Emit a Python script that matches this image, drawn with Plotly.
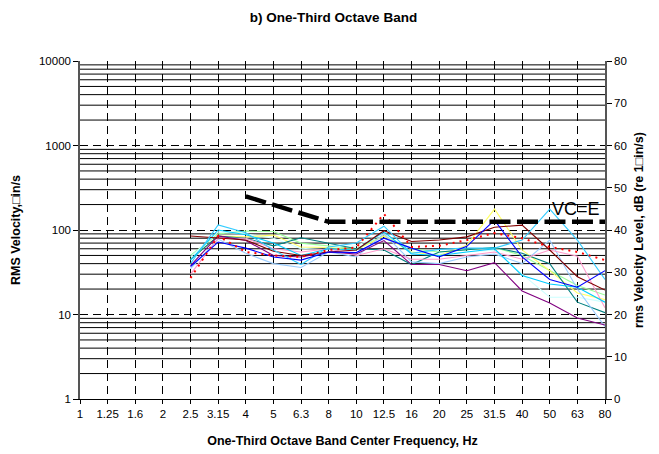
import math
import plotly.graph_objects as go

freq_labels = ["1", "1.25", "1.6", "2", "2.5", "3.15", "4", "5", "6.3", "8",
               "10", "12.5", "16", "20", "25", "31.5", "40", "50", "63", "80"]
data_start = 4  # series begin at 2.5 Hz

maroon = [85, 80, 76, 56, 50, 55, 58, 98, 73, 76, 83, 108, 114, 58, 28, 19.5]
blue = [37, 72, 61, 48, 44, 55, 54, 80, 61, 48, 64, 131, 48, 26, 21, 33]
skyblue = [40, 115, 93, 58, 39, 63, 70, 111, 53, 59, 61, 61, 76, 177, 76, 26]
yellow = [45, 85, 83, 87, 63, 62, 58, 85, 55, 50, 66, 177, 58, 33, 18, 15]
lightgreen = [50, 90, 97, 96, 70, 65, 60, 85, 60, 55, 58, 62, 50, 33, 22, 17]
teal = [45, 85, 80, 65, 81, 70, 60, 58, 39, 55, 58, 62, 53, 40, 14, 10.5]
pink = [30, 80, 80, 60, 55, 60, 50, 60, 45, 45, 50, 55, 45, 58, 49, 12]
lightblue = [35, 78, 53, 40, 36, 55, 48, 90, 42, 40, 48, 52, 40, 76, 20, 7.2]
purple = [38, 85, 75, 50, 48, 55, 52, 75, 39, 39, 33, 41, 19, 13.7, 9.1, 7.5]
lightcyan = [48, 95, 90, 80, 60, 62, 65, 90, 55, 52, 55, 58, 30, 16, 16, 14]
cyan2 = [44, 100, 88, 70, 50, 60, 58, 95, 52, 50, 55, 60, 29, 23, 21, 14]
red = [27, 85, 55, 50, 48, 58, 62, 155, 63, 65, 76, 92, 80, 63, 55, 44]

vce_start = 6  # VC-E curve begins at 4 Hz
vce = [250, 200, 160, 125, 125, 125, 125, 125, 125, 125, 125, 125, 125, 125]

series = [
    (lightgreen, "#99FF99"),
    (lightcyan, "#CCFFFF"),
    (yellow, "#FFFF66"),
    (teal, "#008080"),
    (lightblue, "#99CCFF"),
    (pink, "#FF99CC"),
    (purple, "#800080"),
    (cyan2, "#00CCFF"),
    (maroon, "#800000"),
    (skyblue, "#33CCFF"),
    (blue, "#0000FF"),
]

FONT = "Arial, Liberation Sans, sans-serif"
fig = go.Figure()

for vals, col in series:
    xs = list(range(data_start, data_start + len(vals)))
    fig.add_trace(go.Scatter(x=xs, y=vals, mode="lines",
                             line=dict(color=col, width=1.1),
                             showlegend=False, hoverinfo="skip"))

xs = list(range(data_start, data_start + len(red)))
fig.add_trace(go.Scatter(x=xs, y=red, mode="lines",
                         line=dict(color="#FF0000", width=2, dash="2px,5px"),
                         showlegend=False, hoverinfo="skip"))

xs = list(range(vce_start, vce_start + len(vce)))
fig.add_trace(go.Scatter(x=xs, y=vce, mode="lines",
                         line=dict(color="black", width=4.5, dash="21px,6.5px"),
                         showlegend=False, hoverinfo="skip"))

# invisible trace on the dB axis so it is drawn
xs = list(range(data_start, data_start + len(maroon)))
fig.add_trace(go.Scatter(x=xs, y=[20 * math.log10(v) for v in maroon],
                         yaxis="y2", mode="lines", opacity=0,
                         line=dict(color="rgba(0,0,0,0)"),
                         showlegend=False, hoverinfo="skip"))

# minor horizontal grid lines (2..9 of each decade)
minor_vals = [m * 10 ** d for d in range(0, 4) for m in range(2, 10)]
for v in minor_vals:
    fig.add_shape(type="line", xref="paper", x0=0, x1=1, yref="y", y0=v, y1=v,
                  line=dict(color="black", width=1), layer="below")

fig.add_annotation(text="VC=E", x=17.95, y=math.log10(175), xref="x", yref="y",
                   showarrow=False, font=dict(family=FONT, size=18, color="black"))

# page body has an 8px margin: figure is sized/margined to compensate
fig.update_layout(
    width=651, height=446,
    margin=dict(l=72, r=54, t=53, b=55, autoexpand=False),
    paper_bgcolor="white", plot_bgcolor="white",
    title=dict(text="<b>b) One-Third Octave Band</b>", x=0.5, xref="container",
               xanchor="center", y=1 - 9 / 446, yref="container", yanchor="middle",
               font=dict(family=FONT, size=13.5, color="black")),
    font=dict(family=FONT, size=11, color="black"),
    xaxis=dict(
        range=[0, 19], tickmode="array", automargin=False,
        tickvals=list(range(len(freq_labels))), ticktext=freq_labels,
        showgrid=True, gridcolor="black", gridwidth=1, griddash="8px,5px",
        showline=True, linecolor="black", linewidth=1,
        ticks="outside", ticklen=4, tickcolor="black",
        zeroline=False,
        title=dict(text="<b>One-Third Octave Band Center Frequency, Hz</b>",
                   font=dict(family=FONT, size=12.5), standoff=17),
        tickfont=dict(family=FONT, size=11.5),
    ),
    yaxis=dict(
        type="log", range=[0, 4], automargin=False,
        tickvals=[1, 10, 100, 1000, 10000],
        ticktext=["1", "10", "100", "1000", "10000"],
        showgrid=True, gridcolor="black", gridwidth=1, griddash="8px,5px",
        showline=True, linecolor="#555555", linewidth=1.5,
        ticks="outside", ticklen=5, tickcolor="black",
        zeroline=False,
        title=dict(text="<b>RMS Velocity,□in/s</b>",
                   font=dict(family=FONT, size=12.5), standoff=16),
        tickfont=dict(family=FONT, size=11.5),
    ),
    yaxis2=dict(
        overlaying="y", side="right", range=[0, 80], automargin=False,
        tickvals=[0, 10, 20, 30, 40, 50, 60, 70, 80],
        showgrid=False, zeroline=False,
        showline=True, linecolor="#555555", linewidth=1.5,
        ticks="outside", ticklen=5, tickcolor="black",
        title=dict(text="<b>rms Velocity Level, dB (re 1□in/s)</b>",
                   font=dict(family=FONT, size=12.5), standoff=8),
        tickfont=dict(family=FONT, size=11.5),
    ),
)

fig.write_html("out.html")
